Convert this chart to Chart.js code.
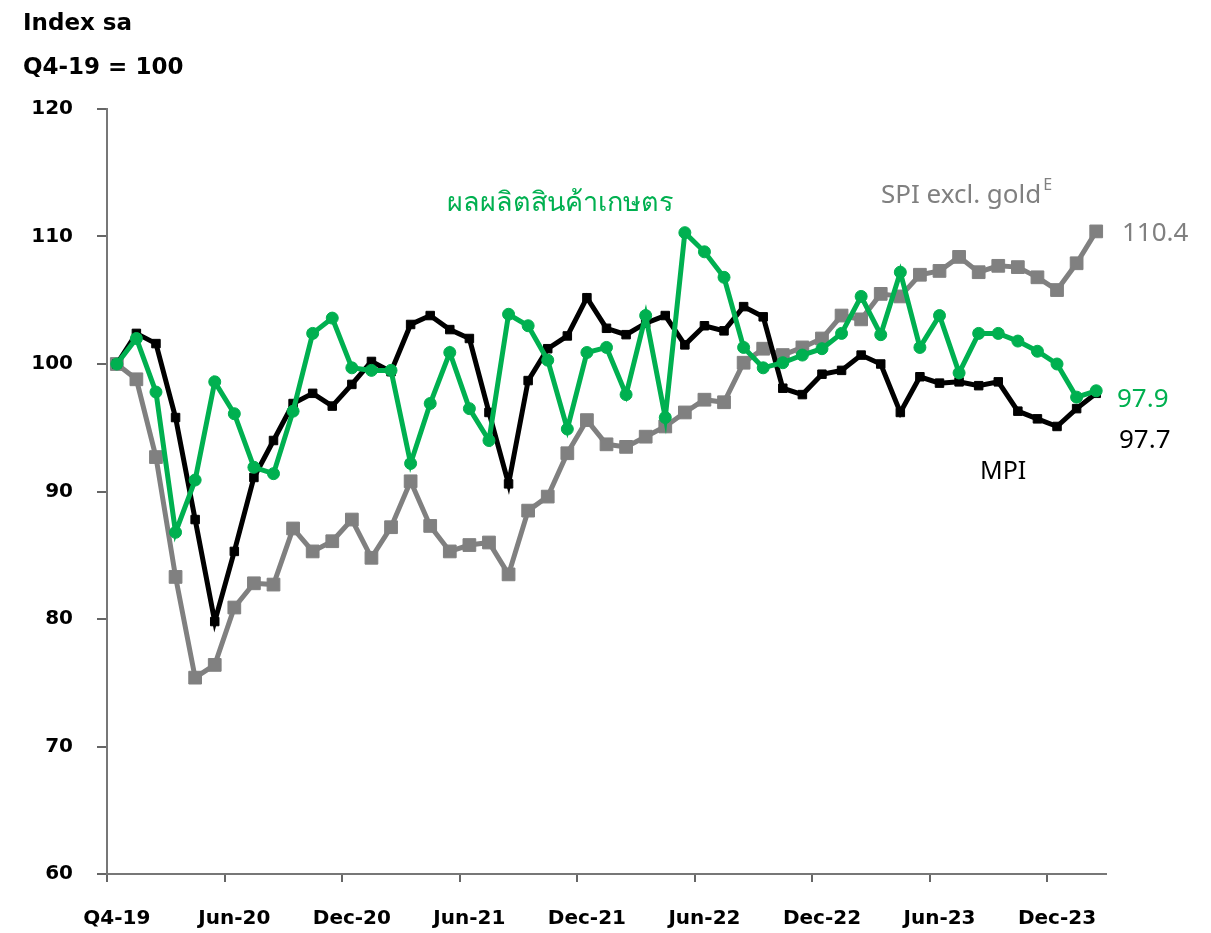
<!DOCTYPE html>
<html>
<head>
<meta charset="utf-8">
<script src="https://cdn.jsdelivr.net/npm/chart.js@4"></script>
<style>
  html, body { margin: 0; padding: 0; background: #fff; }
  #wrap { width: 1211px; height: 933px; position: relative; }
</style>
</head>
<body>
<div id="wrap"><canvas id="chart" width="1211" height="933"></canvas></div>
<script>
// Monthly index, Q4-19 = 100
const months = [
  'Q4-19','Jan-20','Feb-20','Mar-20','Apr-20','May-20','Jun-20','Jul-20','Aug-20','Sep-20','Oct-20','Nov-20',
  'Dec-20','Jan-21','Feb-21','Mar-21','Apr-21','May-21','Jun-21','Jul-21','Aug-21','Sep-21','Oct-21','Nov-21',
  'Dec-21','Jan-22','Feb-22','Mar-22','Apr-22','May-22','Jun-22','Jul-22','Aug-22','Sep-22','Oct-22','Nov-22',
  'Dec-22','Jan-23','Feb-23','Mar-23','Apr-23','May-23','Jun-23','Jul-23','Aug-23','Sep-23','Oct-23','Nov-23',
  'Dec-23','Jan-24','Feb-24'
];
const mpi = [
  100.0,102.4,101.6,95.8,87.8,79.8,85.3,91.1,94.0,96.9,97.7,96.7,
  98.4,100.2,99.4,103.1,103.8,102.7,102.0,96.2,90.6,98.7,101.2,102.2,
  105.2,102.8,102.3,103.2,103.8,101.5,103.0,102.6,104.5,103.7,98.1,97.6,
  99.2,99.5,100.7,100.0,96.2,99.0,98.5,98.6,98.3,98.6,96.3,95.7,
  95.1,96.5,97.7
];
const agri = [
  100.0,102.0,97.8,86.8,90.9,98.6,96.1,91.9,91.4,96.3,102.4,103.6,
  99.7,99.5,99.5,92.2,96.9,100.9,96.5,94.0,103.9,103.0,100.3,94.9,
  100.9,101.3,97.6,103.8,95.8,110.3,108.8,106.8,101.3,99.7,100.1,100.7,
  101.2,102.4,105.3,102.3,107.2,101.3,103.8,99.3,102.4,102.4,101.8,101.0,
  100.0,97.4,97.9
];
const spi = [
  100.0,98.8,92.7,83.3,75.4,76.4,80.9,82.8,82.7,87.1,85.3,86.1,
  87.8,84.8,87.2,90.8,87.3,85.3,85.8,86.0,83.5,88.5,89.6,93.0,
  95.6,93.7,93.5,94.3,95.1,96.2,97.2,97.0,100.1,101.2,100.7,101.3,
  102.0,103.8,103.5,105.5,105.3,107.0,107.3,108.4,107.2,107.7,107.6,106.8,
  105.8,107.9,110.4
];
const yTicks = [60, 70, 80, 90, 100, 110, 120];

const GREEN = '#00b050';
const GREY = '#808080';
const FONT = "'Noto Sans', 'Open Sans', sans-serif";
const AXFONT = "'DejaVu Sans', sans-serif";

// text labels on the canvas
const textPlugin = {
  id: 'texts',
  afterDraw(chart) {
    const c = chart.ctx;
    c.save();
    c.textBaseline = 'alphabetic';
    c.textAlign = 'left';
    c.fillStyle = '#000';
    c.font = 'bold 23px ' + AXFONT;
    c.fillText('Index sa', 23, 30);
    c.fillText('Q4-19 = 100', 23, 74);

    c.font = '27px ' + FONT;
    c.fillStyle = GREEN;
    c.fillText('ผลผลิตสินค้าเกษตร', 447, 211);

    c.fillStyle = GREY;
    c.font = '26px ' + FONT;
    c.fillText('SPI excl. gold', 881, 203);
    const w = c.measureText('SPI excl. gold').width;
    c.font = '16px ' + FONT;
    c.fillText('E', 881 + w + 2, 190);

    c.font = '26px ' + FONT;
    c.fillText('110.4', 1122, 241);
    c.fillStyle = GREEN;
    c.fillText('97.9', 1117, 407);
    c.fillStyle = '#000';
    c.fillText('97.7', 1119, 448);
    c.font = '25px ' + FONT;
    c.fillText('MPI', 980, 479);
    c.restore();
  }
};

new Chart(document.getElementById('chart'), {
  type: 'line',
  data: {
    labels: months,
    datasets: [
      {
        label: 'ผลผลิตสินค้าเกษตร', data: agri, order: 0,
        borderColor: GREEN, backgroundColor: GREEN, borderWidth: 5,
        pointStyle: 'circle', pointRadius: 6, pointBorderWidth: 1,
        tension: 0
      },
      {
        label: 'MPI', data: mpi, order: 1,
        borderColor: '#000', backgroundColor: '#000', borderWidth: 5,
        pointStyle: 'rect', pointRadius: 6, pointBorderWidth: 1,
        tension: 0
      },
      {
        label: 'SPI excl. gold', data: spi, order: 2,
        borderColor: GREY, backgroundColor: GREY, borderWidth: 5,
        pointStyle: 'rect', pointRadius: 9, pointBorderWidth: 1,
        tension: 0
      }
    ]
  },
  options: {
    responsive: false,
    animation: false,
    layout: { padding: { top: 109, right: 105, left: 0, bottom: 0 } },
    plugins: { legend: { display: false }, tooltip: { enabled: false } },
    scales: {
      x: {
        type: 'category',
        offset: true,
        grid: {
          offset: true,
          drawOnChartArea: false,
          drawTicks: true,
          tickLength: 8,
          lineWidth: 2,
          color: ctx => (ctx.index % 6 === 0 ? '#666' : 'rgba(0,0,0,0)')
        },
        border: { display: true, color: '#777', width: 2 },
        ticks: {
          autoSkip: false,
          maxRotation: 0,
          padding: 25,
          color: '#000',
          font: { family: AXFONT, size: 20, weight: 'bold' },
          callback: (v, i) => (i % 6 === 0 ? months[i] : '')
        },
        afterFit: s => { s.height = 59; }
      },
      y: {
        min: 60, max: 120,
        afterBuildTicks: s => { s.ticks = yTicks.map(v => ({ value: v })); },
        grid: {
          drawOnChartArea: false,
          drawTicks: true,
          tickLength: 10,
          lineWidth: 2,
          color: '#666'
        },
        border: { display: true, color: '#777', width: 2 },
        ticks: {
          padding: 24,
          color: '#000',
          font: { family: AXFONT, size: 20, weight: 'bold' }
        },
        afterFit: s => { s.width = 107; }
      }
    }
  },
  plugins: [textPlugin]
});
</script>
</body>
</html>
